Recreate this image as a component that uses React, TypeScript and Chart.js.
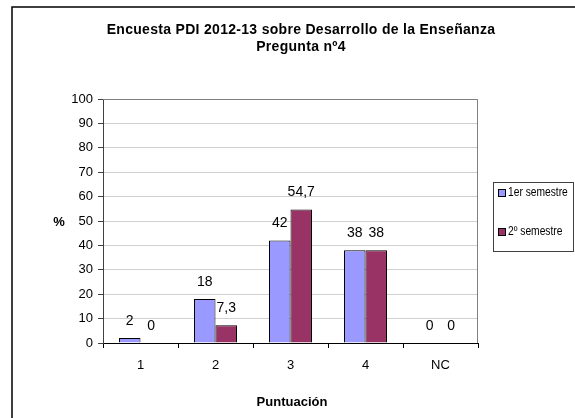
import React, { useEffect, useRef } from "react";
import { Chart, registerables } from "chart.js";

Chart.register(...registerables);

const titleLines = ["Encuesta PDI 2012-13 sobre Desarrollo de la Enseñanza", "Pregunta nº4"];
const categories = ["1", "2", "3", "4", "NC"];
const seriesNames = ["1er semestre", "2º semestre"];
const primerSemestre = [2, 18, 42, 38, 0];
const segundoSemestre = [0, 7.3, 54.7, 38, 0];
const seriesColors = ["#9999FF", "#993366"];
const yAxisTitle = "%";
const xAxisTitle = "Puntuación";
const yMin = 0;
const yMax = 100;
const yStep = 10;

const FONT = '"Liberation Sans", Arial, sans-serif';

const decorPlugin = {
  id: "decor",
  afterDraw(chart: any) {
    const ctx = chart.ctx;
    const area = chart.chartArea;
    ctx.save();
    // outer chart border
    ctx.strokeStyle = "#000000";
    ctx.lineWidth = 1.5;
    ctx.beginPath();
    ctx.moveTo(12, 420);
    ctx.lineTo(12, 7);
    ctx.lineTo(576, 7);
    ctx.stroke();

    // plot border top/right
    ctx.strokeStyle = "#808080";
    ctx.lineWidth = 1;
    ctx.beginPath();
    ctx.moveTo(area.left, area.top + 0.5);
    ctx.lineTo(area.right - 0.5, area.top + 0.5);
    ctx.lineTo(area.right - 0.5, area.bottom);
    ctx.stroke();

    // title
    ctx.fillStyle = "#000000";
    ctx.textAlign = "center";
    ctx.textBaseline = "middle";
    ctx.font = "bold 14px " + FONT;
    (ctx as any).letterSpacing = "0.3px";
    ctx.fillText(titleLines[0], 301, 30);
    ctx.fillText(titleLines[1], 301, 47);
    (ctx as any).letterSpacing = "0px";

    // axis titles
    ctx.font = "bold 13px " + FONT;
    ctx.fillText(yAxisTitle, 59, 222);
    ctx.fillText(xAxisTitle, 292, 402);

    // data labels
    ctx.font = "14px " + FONT;
    ctx.textBaseline = "middle";
    chart.data.datasets.forEach((ds: any, di: number) => {
      const meta = chart.getDatasetMeta(di);
      meta.data.forEach((bar: any, i: number) => {
        const v = ds.data[i];
        const txt = String(v).replace(".", ",");
        ctx.fillText(txt, bar.x, bar.y - 17);
      });
    });

    // legend
    ctx.strokeStyle = "#404040";
    ctx.lineWidth = 1;
    ctx.strokeRect(493.5, 182.5, 80, 69);
    ctx.font = "12.5px " + FONT;
    ctx.textAlign = "left";
    const ys = [193, 232];
    chart.data.datasets.forEach((ds: any, di: number) => {
      const y = ys[di];
      ctx.fillStyle = ds.backgroundColor;
      ctx.fillRect(498, y - 3.5, 7, 7);
      ctx.strokeStyle = "#000000";
      ctx.strokeRect(498.5, y - 3.5, 7, 7);
      ctx.fillStyle = "#000000";
      ctx.save();
      ctx.translate(508, y);
      ctx.scale(0.82, 1);
      ctx.fillText(ds.label, 0, 0);
      ctx.restore();
    });
    ctx.restore();
  },
};

export default function App() {
  const ref = useRef<HTMLCanvasElement>(null);
  useEffect(() => {
    if (!ref.current) return;
    Chart.defaults.font.family = FONT;
    const chart = new Chart(ref.current, {
      type: "bar",
      data: {
        labels: categories,
        datasets: [
          {
            label: seriesNames[0],
            data: primerSemestre,
            backgroundColor: seriesColors[0],
            borderColor: "#000000",
            borderWidth: 1,
            categoryPercentage: 0.573,
            barPercentage: 1,
          },
          {
            label: seriesNames[1],
            data: segundoSemestre,
            backgroundColor: seriesColors[1],
            borderColor: "#000000",
            borderWidth: 1,
            categoryPercentage: 0.573,
            barPercentage: 1,
          },
        ],
      },
      options: {
        responsive: false,
        animation: false,
        devicePixelRatio: 1,
        layout: { padding: { left: 0, top: 99, right: 97, bottom: 35 } },
        plugins: {
          legend: { display: false },
          title: { display: false },
          tooltip: { enabled: false },
        },
        scales: {
          x: {
            grid: {
              display: true,
              drawOnChartArea: false,
              drawTicks: true,
              tickLength: 5,
              tickColor: "#000000",
              offset: true,
            },
            border: { color: "#000000", width: 1 },
            ticks: { color: "#000000", font: { size: 13 }, padding: 10 },
            afterFit(scale: any) {
              scale.height = 40;
            },
          },
          y: {
            min: yMin,
            max: yMax,
            grid: {
              color: "#d0d0d0",
              tickColor: "#404040",
              tickLength: 5,
            },
            border: { color: "#404040", width: 1 },
            ticks: { stepSize: yStep, color: "#000000", font: { size: 13 }, padding: 5 },
            afterFit(scale: any) {
              scale.width = 103;
            },
          },
        },
      },
      plugins: [decorPlugin],
    } as any);
    return () => chart.destroy();
  }, []);
  return (
    <div style={{ position: "fixed", left: 0, top: 0, width: 575, height: 418, background: "#ffffff" }}>
      <canvas ref={ref} width={575} height={418} style={{ display: "block" }} />
    </div>
  );
}
